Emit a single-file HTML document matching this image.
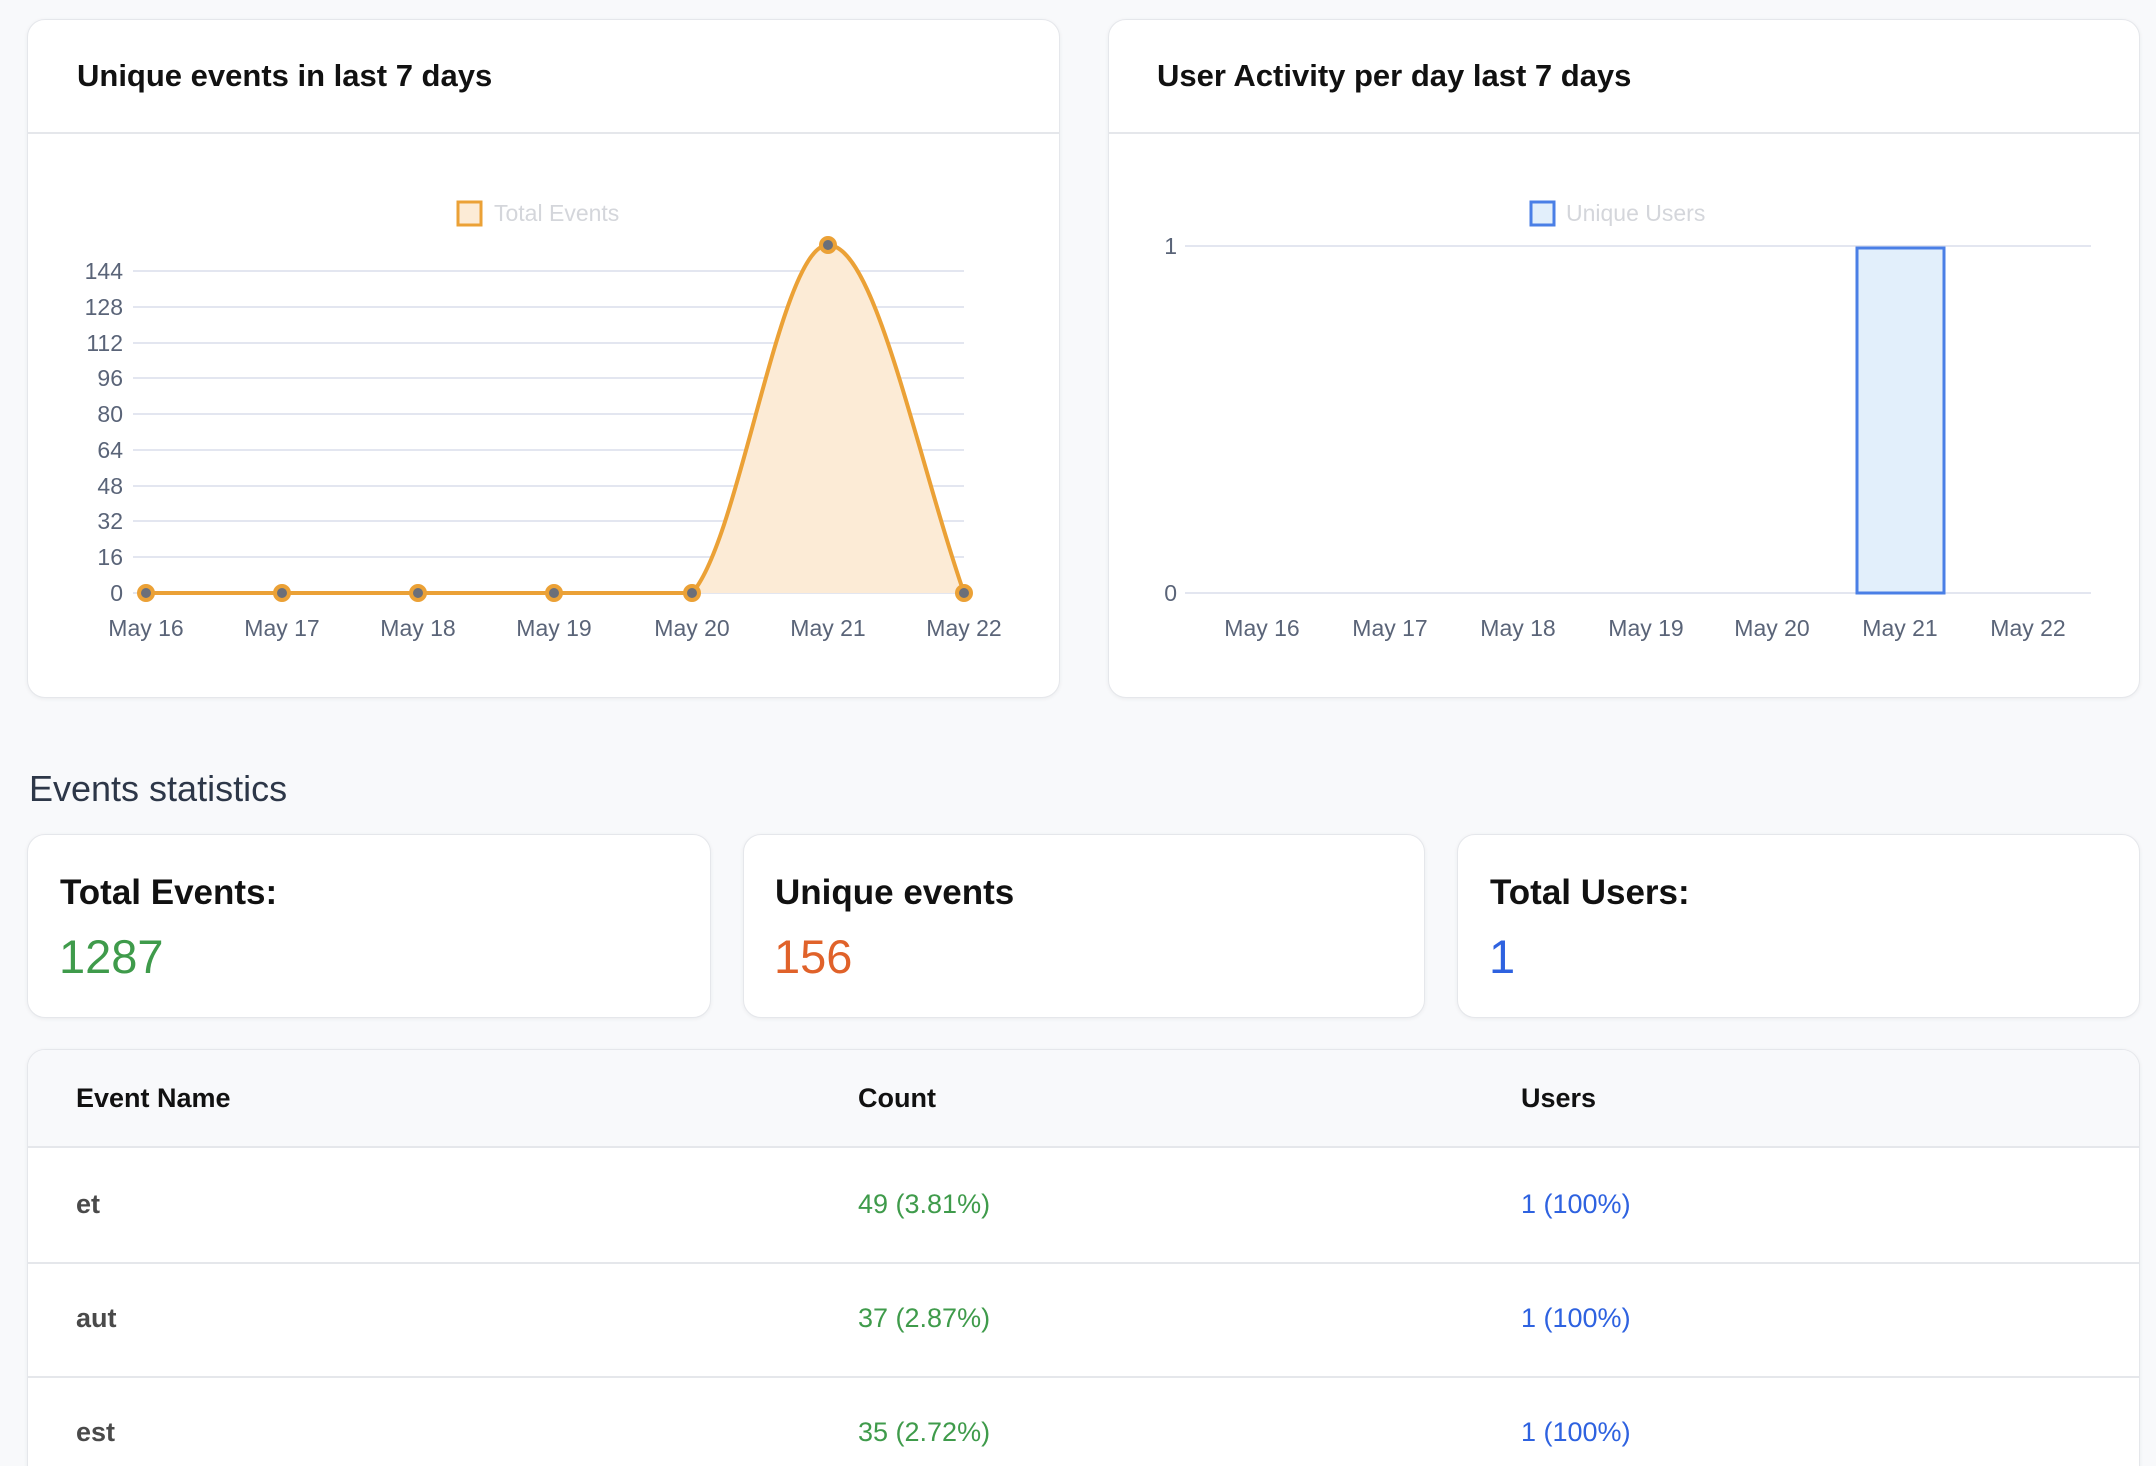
<!DOCTYPE html>
<html style="width:2156px;height:1466px;overflow:hidden"><head><meta charset="utf-8"><style>
*{box-sizing:border-box;margin:0;padding:0}
body{width:2156px;height:1466px;background:#f8f9fb;font-family:"Liberation Sans",sans-serif;position:relative;overflow:hidden;color:#111}
.card{position:absolute;background:#fff;border:1px solid #e5e7eb;border-radius:18px;box-shadow:0 1px 4px rgba(0,0,0,.06)}
.abs{position:absolute}
.ttl{position:absolute;font-size:31px;font-weight:bold;color:#111}
.t{font-family:"Liberation Sans",sans-serif}
</style></head><body>
<div class="card" style="left:27px;top:19px;width:1033px;height:679px"></div>
<div class="card" style="left:1108px;top:19px;width:1032px;height:679px"></div>
<div class="ttl" style="left:77px;top:58px">Unique events in last 7 days</div>
<div class="ttl" style="left:1157px;top:58px">User Activity per day last 7 days</div>
<div class="abs" style="left:28px;top:132px;width:1031px;height:2px;background:#e5e7eb"></div>
<div class="abs" style="left:1109px;top:132px;width:1030px;height:2px;background:#e5e7eb"></div>
<svg class="abs" style="left:0;top:0" width="2156" height="720">
<g stroke="#e3e6f0" stroke-width="2">
<line x1="133" x2="964" y1="271" y2="271"/><line x1="133" x2="964" y1="307" y2="307"/><line x1="133" x2="964" y1="343" y2="343"/><line x1="133" x2="964" y1="378" y2="378"/><line x1="133" x2="964" y1="414" y2="414"/><line x1="133" x2="964" y1="450" y2="450"/><line x1="133" x2="964" y1="486" y2="486"/><line x1="133" x2="964" y1="521" y2="521"/><line x1="133" x2="964" y1="557" y2="557"/><line x1="133" x2="964" y1="593" y2="593"/>
<line x1="1185" x2="2091" y1="246" y2="246"/><line x1="1185" x2="2091" y1="593" y2="593"/>
</g>
<g font-size="23" fill="#5a6478" text-anchor="end" class="t">
<text x="123" y="279">144</text><text x="123" y="315">128</text><text x="123" y="351">112</text><text x="123" y="386">96</text><text x="123" y="422">80</text><text x="123" y="458">64</text><text x="123" y="494">48</text><text x="123" y="529">32</text><text x="123" y="565">16</text><text x="123" y="601">0</text>
<text x="1177" y="254">1</text><text x="1177" y="601">0</text>
</g>
<g font-size="23" fill="#5a6478" text-anchor="middle">
<text x="146" y="636">May 16</text><text x="282" y="636">May 17</text><text x="418" y="636">May 18</text><text x="554" y="636">May 19</text><text x="692" y="636">May 20</text><text x="828" y="636">May 21</text><text x="964" y="636">May 22</text>
<text x="1262" y="636">May 16</text><text x="1390" y="636">May 17</text><text x="1518" y="636">May 18</text><text x="1646" y="636">May 19</text><text x="1772" y="636">May 20</text><text x="1900" y="636">May 21</text><text x="2028" y="636">May 22</text>
</g>
<path d="M692 593 C740 540 780 245 828 245 C875 245 915 450 964 593 Z" fill="#fcebd6"/>
<path d="M146 593 L692 593 C740 540 780 245 828 245 C875 245 915 450 964 593" fill="none" stroke="#eba136" stroke-width="4"/>
<g fill="#6b6f7a" stroke="#eba136" stroke-width="4">
<circle cx="146" cy="593" r="7"/><circle cx="282" cy="593" r="7"/><circle cx="418" cy="593" r="7"/><circle cx="554" cy="593" r="7"/><circle cx="692" cy="593" r="7"/><circle cx="828" cy="245" r="7"/><circle cx="964" cy="593" r="7"/>
</g>
<rect x="1857" y="248" width="87" height="345" fill="#e2effb" stroke="#4a7fe6" stroke-width="3"/>
<rect x="458" y="202" width="23" height="23" fill="#fcebd6" stroke="#eba136" stroke-width="3"/>
<text x="494" y="221" font-size="23" fill="#d4d6db">Total Events</text>
<rect x="1531" y="202" width="23" height="23" fill="#e2effb" stroke="#4a7fe6" stroke-width="3"/>
<text x="1566" y="221" font-size="23" fill="#d4d6db">Unique Users</text>
</svg>
<div class="abs" style="left:29px;top:768px;font-size:36px;color:#2d3748">Events statistics</div>
<div class="card" style="left:27px;top:834px;width:684px;height:184px"></div>
<div class="card" style="left:743px;top:834px;width:682px;height:184px"></div>
<div class="card" style="left:1457px;top:834px;width:683px;height:184px"></div>
<div class="abs" style="left:60px;top:873px;font-size:35px;font-weight:bold">Total Events:</div>
<div class="abs" style="left:775px;top:873px;font-size:35px;font-weight:bold">Unique events</div>
<div class="abs" style="left:1490px;top:873px;font-size:35px;font-weight:bold">Total Users:</div>
<div class="abs" style="left:59px;top:929px;font-size:47px;color:#3f9b4b">1287</div>
<div class="abs" style="left:774px;top:929px;font-size:47px;color:#e0622a">156</div>
<div class="abs" style="left:1489px;top:929px;font-size:47px;color:#2e62e0">1</div>
<div class="card" style="left:27px;top:1049px;width:2113px;height:440px;overflow:hidden">
<div style="height:98px;background:#f8f9fb;border-bottom:2px solid #e5e7eb"></div>
<div style="position:absolute;top:212px;left:0;right:0;height:2px;background:#e5e7eb"></div>
<div style="position:absolute;top:326px;left:0;right:0;height:2px;background:#e5e7eb"></div>
</div>
<div class="abs" style="top:1083px;left:76px;font-size:27px;font-weight:bold">Event Name</div>
<div class="abs" style="top:1083px;left:858px;font-size:27px;font-weight:bold">Count</div>
<div class="abs" style="top:1083px;left:1521px;font-size:27px;font-weight:bold">Users</div>
<div class="abs" style="top:1189px;left:76px;font-size:27px;font-weight:bold;color:#4a4a4a">et</div>
<div class="abs" style="top:1189px;left:858px;font-size:27px;color:#3f9b4b">49 (3.81%)</div>
<div class="abs" style="top:1189px;left:1521px;font-size:27px;color:#2e62e0">1 (100%)</div>
<div class="abs" style="top:1303px;left:76px;font-size:27px;font-weight:bold;color:#4a4a4a">aut</div>
<div class="abs" style="top:1303px;left:858px;font-size:27px;color:#3f9b4b">37 (2.87%)</div>
<div class="abs" style="top:1303px;left:1521px;font-size:27px;color:#2e62e0">1 (100%)</div>
<div class="abs" style="top:1417px;left:76px;font-size:27px;font-weight:bold;color:#4a4a4a">est</div>
<div class="abs" style="top:1417px;left:858px;font-size:27px;color:#3f9b4b">35 (2.72%)</div>
<div class="abs" style="top:1417px;left:1521px;font-size:27px;color:#2e62e0">1 (100%)</div>
</body></html>
